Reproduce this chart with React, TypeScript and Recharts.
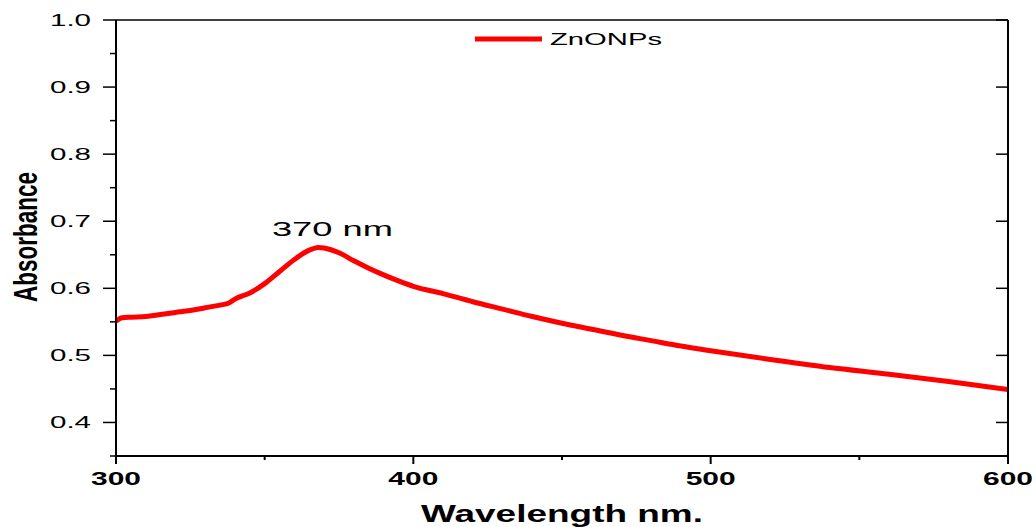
import React from 'react';
import {
  Legend,
  Line,
  LineChart,
  ReferenceDot,
  ReferenceLine,
  XAxis,
  YAxis,
} from 'recharts';

// UV-Vis spectrum of ZnO nanoparticles
const wavelengths = [
  300, 302, 305, 310, 315, 320, 325, 330, 335, 338, 340, 345, 350, 355, 360,
  365, 368, 370, 375, 380, 385, 390, 395, 400, 410, 420, 430, 440, 450, 460,
  470, 480, 490, 500, 520, 540, 560, 580, 600,
];
const absorbance = [
  0.551, 0.556, 0.557, 0.558, 0.561, 0.564, 0.567, 0.571, 0.575, 0.578, 0.584,
  0.593, 0.607, 0.625, 0.643, 0.657, 0.661, 0.66, 0.653, 0.641, 0.63, 0.62,
  0.611, 0.603, 0.592, 0.58, 0.569, 0.558, 0.548, 0.539, 0.53, 0.522, 0.514,
  0.507, 0.494, 0.482, 0.472, 0.461, 0.449,
];

const xTicks = [300, 350, 400, 450, 500, 550, 600];
const xMajor = [300, 400, 500, 600];
const yTicks = [0.35, 0.4, 0.45, 0.5, 0.55, 0.6, 0.65, 0.7, 0.75, 0.8, 0.85, 0.9, 0.95, 1.0];
const yMajor = [0.4, 0.5, 0.6, 0.7, 0.8, 0.9, 1.0];

const seriesName = 'ZnONPs';
const peakLabel = '370 nm';
const peakLabelPos = { x: 372.8, y: 0.69 };

const data = wavelengths.map((w, i) => ({ wavelength: w, value: absorbance[i] }));

const FONT = '"Liberation Sans", Arial, sans-serif';

const isMajor = (list: number[], v: number) => list.some((m) => Math.abs(m - v) < 1e-6);

const BottomTick = (props: any) => {
  const { x, y, payload } = props;
  const major = isMajor(xMajor, payload.value);
  return (
    <g>
      <line x1={x} x2={x} y1={y} y2={y + (major ? 8 : 4)} stroke="#000" strokeWidth={2} />
      {major && (
        <text
          x={x}
          y={y + 29}
          textAnchor="middle"
          fontFamily={FONT}
          fontWeight="bold"
          fontSize={18}
          textLength={50}
          lengthAdjust="spacingAndGlyphs"
          fill="#000"
        >
          {payload.value}
        </text>
      )}
    </g>
  );
};

const LeftTick = (props: any) => {
  const { x, y, payload } = props;
  const major = isMajor(yMajor, payload.value);
  return (
    <g>
      <line x1={x - (major ? 13 : 6)} x2={x} y1={y} y2={y} stroke="#000" strokeWidth={1.5} />
      {major && (
        <text
          x={91}
          y={y + 6}
          textAnchor="end"
          fontFamily={FONT}
          fontSize={17}
          textLength={41}
          lengthAdjust="spacingAndGlyphs"
          fill="#000"
        >
          {payload.value.toFixed(1)}
        </text>
      )}
    </g>
  );
};

const RightTick = (props: any) => {
  const { x, y } = props;
  return <line x1={x - 12} x2={x} y1={y} y2={y} stroke="#000" strokeWidth={1.5} />;
};

const LegendBox = () => (
  <svg width={200} height={28}>
    <line x1={5} x2={72} y1={13} y2={13} stroke="#ff0000" strokeWidth={5} />
    <text
      x={80}
      y={19}
      fontFamily={FONT}
      fontSize={17}
      textLength={112}
      lengthAdjust="spacingAndGlyphs"
      fill="#000"
    >
      {seriesName}
    </text>
  </svg>
);

const PeakText = (props: any) => (
  <text
    x={props.cx}
    y={props.cy + 8}
    textAnchor="middle"
    fontFamily={FONT}
    fontSize={21}
    textLength={121}
    lengthAdjust="spacingAndGlyphs"
    fill="#000"
  >
    {peakLabel}
  </text>
);

const App = () => {
  return (
    <div style={{ position: 'absolute', left: 0, top: 0, background: '#fff' }}>
      <LineChart
        width={1036}
        height={527}
        data={data}
        margin={{ top: 20, right: 27, bottom: 11, left: 40 }}
      >
        <XAxis
          dataKey="wavelength"
          type="number"
          domain={[300, 600]}
          ticks={xTicks}
          allowDataOverflow
          height={60}
          tickSize={0}
          tickMargin={0}
          axisLine={{ stroke: '#000', strokeWidth: 2 }}
          tickLine={false}
          tick={<BottomTick />}
          interval={0}
        />
        <YAxis
          yAxisId="left"
          type="number"
          domain={[0.35, 1.0]}
          ticks={yTicks}
          allowDataOverflow
          width={76}
          tickSize={0}
          tickMargin={0}
          axisLine={{ stroke: '#000', strokeWidth: 2 }}
          tickLine={false}
          tick={<LeftTick />}
          interval={0}
        />
        <YAxis
          yAxisId="right"
          orientation="right"
          type="number"
          domain={[0.35, 1.0]}
          ticks={yMajor}
          allowDataOverflow
          width={1}
          tickSize={0}
          tickMargin={0}
          axisLine={{ stroke: '#000', strokeWidth: 2 }}
          tickLine={false}
          tick={<RightTick />}
          interval={0}
        />
        <ReferenceLine yAxisId="left" y={1.0} stroke="#000" strokeWidth={1.5} />
        {/* invisible copy so the right-hand axis gets a scale */}
        <Line
          yAxisId="right"
          dataKey="value"
          stroke="transparent"
          strokeWidth={0}
          dot={false}
          legendType="none"
          isAnimationActive={false}
        />
        <Line
          yAxisId="left"
          dataKey="value"
          name={seriesName}
          type="monotone"
          stroke="#ff0000"
          strokeWidth={5}
          dot={false}
          isAnimationActive={false}
        />
        <ReferenceDot
          yAxisId="left"
          x={peakLabelPos.x}
          y={peakLabelPos.y}
          r={0}
          shape={PeakText}
        />
        <Legend
          layout="horizontal"
          verticalAlign="middle"
          align="center"
          wrapperStyle={{ top: 26, left: 470, width: 200, height: 28 }}
          content={LegendBox}
        />
      </LineChart>
      <svg
        width={1036}
        height={527}
        style={{ position: 'absolute', left: 0, top: 0, pointerEvents: 'none' }}
      >
        <text
          x={562}
          y={522}
          textAnchor="middle"
          fontFamily={FONT}
          fontWeight="bold"
          fontSize={23}
          textLength={282}
          lengthAdjust="spacingAndGlyphs"
          fill="#000"
        >
          Wavelength nm.
        </text>
        <text
          transform="translate(37,237) rotate(-90) scale(1,1.6)"
          textAnchor="middle"
          fontFamily={FONT}
          fontWeight="bold"
          fontSize={21}
          textLength={130}
          lengthAdjust="spacingAndGlyphs"
          fill="#000"
        >
          Absorbance
        </text>
      </svg>
    </div>
  );
};

export default App;
